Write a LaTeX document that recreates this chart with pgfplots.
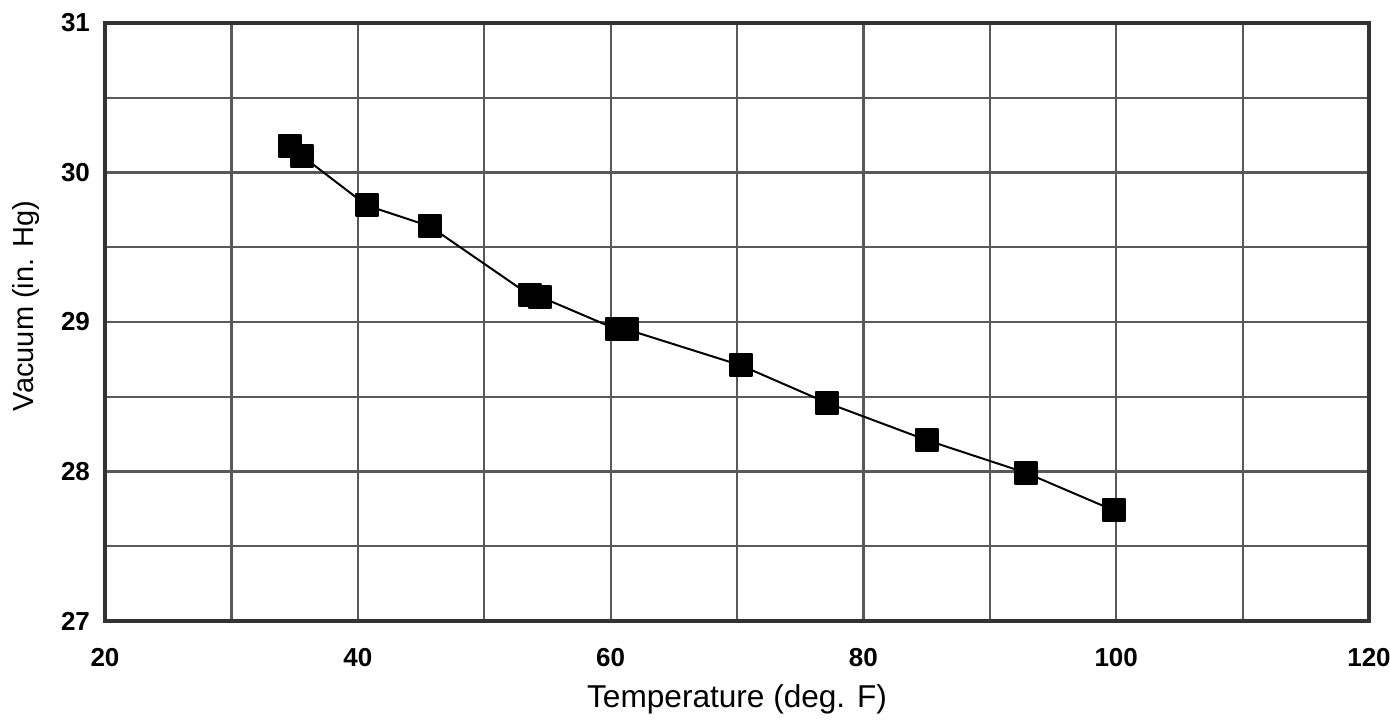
\documentclass[border=0pt]{standalone}
\usepackage{pgfplots}
\pgfplotsset{compat=1.18}
\usepackage{fontspec}
\setmainfont{Liberation Sans}
\begin{document}
\begin{tikzpicture}
\useasboundingbox (0,0) rectangle (695pt,360pt);
\begin{axis}[
  at={(52.5pt,49.5pt)}, anchor=south west,
  scale only axis, width=632pt, height=299pt,
  xmin=20, xmax=120, ymin=27, ymax=31,
  xtick={20,40,...,120}, ytick={27,28,...,31},
  minor x tick num=1, minor y tick num=1,
  grid=both,
  major grid style={draw=black!65, line width=1.1pt},
  minor grid style={draw=black!65, line width=1.1pt},
  axis line style={draw=black!80, line width=1.6pt},
  tick style={draw=none},
  ticklabel style={font=\bfseries\fontsize{13}{15}\selectfont},
  /pgf/number format/assume math mode=true,
  xticklabel style={yshift=-10pt},
  yticklabel style={xshift=-4pt},
  xlabel={Temperature (deg. F)},
  ylabel={Vacuum (in. Hg)},
  xlabel style={font=\fontsize{15.8}{18}\selectfont, yshift=-2pt},
  ylabel style={font=\fontsize{14.5}{17}\selectfont, yshift=4pt, xshift=8pt},
]
\addplot[black, line width=1pt, mark=square*, mark size=5.5pt,
  mark options={fill=black, draw=black, line join=round}]
coordinates {
(34.6,30.18) (35.6,30.11) (40.7,29.78) (45.7,29.64) (53.6,29.18) (54.4,29.17)
(60.5,28.95) (61.3,28.95) (70.3,28.71) (77.1,28.46) (85.0,28.21) (92.9,27.99) (99.8,27.74)
};
\end{axis}
\end{tikzpicture}
\end{document}
